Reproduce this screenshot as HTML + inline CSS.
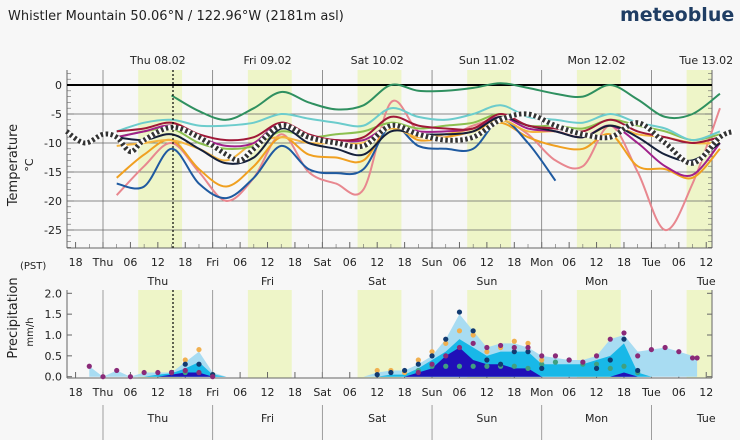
<!DOCTYPE html>
<html><head><meta charset="utf-8"><style>
body{margin:0;background:#f7f7f7;font-family:"DejaVu Sans","Liberation Sans",sans-serif;}
svg{display:block}
text{font-family:"DejaVu Sans","Liberation Sans",sans-serif;fill:#222}
</style></head><body>
<svg id="c" width="740" height="440" viewBox="0 0 740 440"></svg>
<script>
// ---- data ----
const hours = [3,9,15,21,27,33,39,45,51,57,63,69,75,81,87,93,99,105,111,117,123,129,135];
const dayNames = ["Thu","Fri","Sat","Sun","Mon","Tue"];
const dayDates = ["Thu 08.02","Fri 09.02","Sat 10.02","Sun 11.02","Mon 12.02","Tue 13.02"];
const tempTicks = [0,-5,-10,-15,-20,-25];
const precipTicks = [0,0.5,1.0,1.5,2.0];
const precipTickLabels = ["0.0","0.5","1.0","1.5","2.0"];
const sGreen  = [null,null,-1.8,-4.5,-6,-4,-1.2,-3,-4.2,-3.5,0,-1,-1,-0.5,0.3,-0.5,-1.5,-2,0,-2.5,-5.5,-5,-1.5];
const sCyan   = [-8,-6.5,-6,-7,-7,-6.5,-5,-5.8,-6.5,-7,-4,-5.5,-6,-5,-3.5,-5.5,-6,-6.5,-5,-6.5,-7.5,-9.5,-8];
const sMaroon = [-8,-7.5,-6.5,-8.5,-9.5,-9,-6.5,-8.5,-9.5,-9,-5.5,-7,-7.5,-7.5,-5,-7,-7.5,-8,-6,-8,-9,-10,-9];
const sPurple = [-9,-8,-7,-9,-10.5,-10,-6.5,-9,-9.5,-9.5,-7,-8,-8,-7.5,-5.5,-7.5,-8,-9,-7,-10,-14,-15.5,-10];
const sLime   = [-9,-8,-7.5,-10,-11,-10.5,-8,-9,-8.5,-8,-6.5,-7.5,-7,-6.5,-5,-7,-7,-7.5,-6,-7,-8,-9.5,-8.5];
const sNavy   = [-9,-9.5,-8.5,-11,-13.5,-12.5,-7.5,-10,-11,-12,-8,-8.5,-8.5,-8,-5.5,-7,-8,-9,-7,-9,-12,-13,-10];
const sBlue   = [-17,-17.5,-11,-17,-19.5,-16,-10.5,-14.5,-15.2,-14.5,-7,-10.5,-11,-11,-6,-10,-16.5,null,null,null,null,null,null];
const sOrange = [-16,-12,-9.5,-14.5,-17.5,-14,-9,-12,-12.5,-13,-7,-9.5,-9,-8,-6.5,-9,-10.5,-11,-8.5,-14,-14.5,-16,-11];
const sYellow = [-10.5,-10,-9.5,-11,-13,-10,-9,-10,-10,-10,-7.5,-9,-8.5,-7.5,-6,-8,-8,-9,-7,-8.5,-9,-10,-10];
const sPink   = [-19,-14,-10,-15,-20,-16,-8.5,-15,-17,-18,-3,-8,-9,-7,-6,-8.5,-13,-14,-7,-15,-25,-17,-4];
const meanHours = [-8,-4,0,3,6,9,15,21,27,30,33,39,45,51,57,63,69,75,81,87,93,99,105,111,117,123,129,135,138];
const sMean   = [-8,-10,-8.5,-9,-11.5,-9.5,-7.3,-9,-12,-13,-11,-7,-9,-10,-10.5,-7,-8.5,-9.5,-9,-6,-5,-7,-8.5,-9,-6.5,-10,-13.5,-9,-8];
const pHours  = [-3,0,3,6,9,12,15,18,21,24,27,30,33,36,39,42,45,48,51,54,57,60,63,66,69,72,75,78,81,84,87,90,93,96,99,102,105,108,111,114,117,120,123,126,129,130];
const pMax    = [0.25,0,0.15,0,0.1,0.1,0.1,0.35,0.6,0.1,0,0,0,0,0,0,0,0,0,0,0,0.1,0.15,0.15,0.3,0.5,0.9,1.5,1.1,0.7,0.8,0.8,0.7,0.5,0.45,0.4,0.4,0.5,0.9,1.0,0.6,0.65,0.7,0.6,0.5,0.45];
const pMid    = [0,0,0,0,0,0.05,0.08,0.2,0.35,0.05,0,0,0,0,0,0,0,0,0,0,0,0,0.05,0.05,0.2,0.4,0.6,0.9,0.7,0.5,0.6,0.6,0.6,0.3,0.3,0.3,0.3,0.4,0.5,0.8,0.1,0,0,0,0,0];
const pLow    = [0,0,0,0,0,0,0.05,0.1,0.1,0,0,0,0,0,0,0,0,0,0,0,0,0,0,0,0.1,0.2,0.5,0.7,0.4,0.3,0.3,0.2,0.2,0,0,0,0,0,0,0.1,0,0,0,0,0,0];
const pDotPurple = [0.25,0,0.15,0,0.1,0.1,0.1,0.15,0.1,0,null,null,null,null,null,null,null,null,null,null,null,null,null,null,0.1,0.3,0.5,0.7,0.8,0.7,0.75,0.7,0.7,0.5,0.5,0.4,0.35,0.5,0.9,1.05,0.5,0.65,0.7,0.6,0.45,0.45];
const pDotNavy   = [null,null,null,null,null,null,0.1,0.3,0.3,0.05,null,null,null,null,null,null,null,null,null,null,null,0.05,0.1,0.15,0.3,0.5,0.9,1.55,1.1,0.4,0.3,0.6,0.6,0.2,null,null,null,0.2,0.4,0.9,0.15,null,null,null,null,null];
const pDotOrange = [null,null,null,null,null,null,0.1,0.4,0.65,0.05,null,null,null,null,null,null,null,null,null,null,null,0.15,0.15,0.1,0.4,0.6,0.8,1.1,1.0,0.6,0.7,0.85,0.8,0.4,null,null,null,null,null,null,null,null,null,null,null,null];
const pDotGreen  = [null,null,null,null,null,null,null,0.1,0.1,null,null,null,null,null,null,null,null,null,null,null,null,null,null,null,0.15,0.25,0.25,0.25,0.25,0.25,0.25,0.25,0.2,0.3,0.35,0.4,0.3,0.3,0.2,0.25,0.1,null,null,null,null,null];

// ---- axes ----
const X0=103, PXH=4.57;
const x = h => X0 + h*PXH;
const yT = v => 85 - v*5.8;
const yP = v => 376.7 - v*41.7;
const L=67, R=712;
const NS="http://www.w3.org/2000/svg";
const svg=document.getElementById('c');
function el(tag,attrs,parent){const e=document.createElementNS(NS,tag);for(const k in attrs)e.setAttribute(k,attrs[k]);(parent||svg).appendChild(e);return e;}
function txt(s,xx,yy,attrs){const t=el('text',Object.assign({x:xx,y:yy},attrs||{}));t.textContent=s;return t;}
function smooth(pts){
  if(pts.length<2)return '';
  let d='M'+pts[0][0]+','+pts[0][1];
  for(let i=0;i<pts.length-1;i++){
    const p0=pts[i-1]||pts[i],p1=pts[i],p2=pts[i+1],p3=pts[i+2]||p2;
    const c1x=p1[0]+(p2[0]-p0[0])/6,c1y=p1[1]+(p2[1]-p0[1])/6;
    const c2x=p2[0]-(p3[0]-p1[0])/6,c2y=p2[1]-(p3[1]-p1[1])/6;
    d+=` C${c1x},${c1y} ${c2x},${c2y} ${p2[0]},${p2[1]}`;
  }
  return d;
}
function segs(hs,vals,yf){const out=[];let cur=[];hs.forEach((h,i)=>{if(vals[i]==null){if(cur.length)out.push(cur);cur=[];}else cur.push([x(h),yf(vals[i])]);});if(cur.length)out.push(cur);return out;}

// title
let t=txt("Whistler Mountain  50.06°N / 122.96°W (2181m asl)",8,20,{'font-size':13});

t=txt("meteoblue",620,21,{'font-size':19,'font-weight':'bold',style:'fill:#1f3d63'});


// daylight bands
const gB=el('g',{});
for(let d=0;d<6;d++){
  const a=Math.max(L,x(d*24+7.7)),b=Math.min(R,x(d*24+17.3));
  if(b>a){el('rect',{x:a,y:70,width:b-a,height:178,fill:'#eef5c8'},gB);el('rect',{x:a,y:290,width:b-a,height:88,fill:'#eef5c8'},gB);}
}
// temp grid
const gG=el('g',{});
tempTicks.forEach(v=>{if(v!==0)el('line',{x1:L,x2:R,y1:yT(v),y2:yT(v),stroke:'#666','stroke-width':0.7},gG);});
for(let d=0;d<6;d++){el('line',{x1:x(d*24),x2:x(d*24),y1:70,y2:248,stroke:'#666','stroke-width':0.7},gG);}
for(let v=2;v>=-28;v--){el('line',{x1:L,x2:L+(v%5?4:7),y1:yT(v),y2:yT(v),stroke:'#666','stroke-width':0.6},gG);el('line',{x1:R-(v%5?4:7),x2:R,y1:yT(v),y2:yT(v),stroke:'#666','stroke-width':0.6},gG);}
el('line',{x1:L,x2:L,y1:70,y2:248,stroke:'#666'},gG);el('line',{x1:R,x2:R,y1:70,y2:248,stroke:'#666'},gG);
el('line',{x1:L,x2:R,y1:248,y2:248,stroke:'#666'},gG);
el('line',{x1:L,x2:R,y1:yT(0),y2:yT(0),stroke:'#000','stroke-width':2},gG);
// temp tick labels
tempTicks.forEach(v=>{const tt=txt(String(v),62,yT(v)+4,{'font-size':11,'text-anchor':'end'});});
// time labels
const tlab=["18","Thu","06","12","18","Fri","06","12","18","Sat","06","12","18","Sun","06","12","18","Mon","06","12","18","Tue","06","12"];
for(let i=0;i<tlab.length;i++){
  const h=-6+i*6;const hx=x(h);
  if(hx<L||hx>R)continue;
  el('line',{x1:hx,x2:hx,y1:242,y2:248,stroke:'#666'},gG);
  el('line',{x1:hx,x2:hx,y1:372,y2:378,stroke:'#666'},gG);
  let a=txt(tlab[i],hx,266,{'font-size':11,'text-anchor':'middle'});
  a=txt(tlab[i],hx,396,{'font-size':11,'text-anchor':'middle'});
}
for(let h=-9;h<=138;h+=3){if(h%6===0)continue;const hx=x(h);if(hx<L||hx>R)continue;el('line',{x1:hx,x2:hx,y1:244,y2:248,stroke:'#666','stroke-width':0.6},gG);}
dayNames.forEach((n,d)=>{
  let a=txt(dayDates[d],x(d*24+12),64,{'font-size':11,'text-anchor':'middle'});
  a=txt(n,x(d*24+12),285,{'font-size':11,'text-anchor':'middle'});
  a=txt(n,x(d*24+12),422,{'font-size':11,'text-anchor':'middle'});
  el('line',{x1:x(d*24),x2:x(d*24),y1:405,y2:440,stroke:'#888','stroke-width':0.8},gG);
});
// axis titles
t=txt("Temperature",0,0,{'font-size':13,'text-anchor':'middle',transform:'translate(17,165) rotate(-90)'});
t=txt("°C",0,0,{'font-size':11,'text-anchor':'middle',transform:'translate(33,165) rotate(-90)'});
t=txt("(PST)",20,269,{'font-size':10});
t=txt("Precipitation",0,0,{'font-size':13,'text-anchor':'middle',transform:'translate(17,318) rotate(-90)'});
t=txt("mm/h",0,0,{'font-size':10,'text-anchor':'middle',transform:'translate(33,332) rotate(-90)'});

// temp series
const series=[[sPink,'#e8878f'],[sOrange,'#f0a020'],[sBlue,'#1f5aa0'],[sYellow,'#f5b540'],[sLime,'#8cc050'],[sCyan,'#6ccccc'],[sPurple,'#a0208a'],[sNavy,'#15203a'],[sMaroon,'#a01838'],[sGreen,'#2f9060']];
const names=['temp-pink','temp-orange','temp-blue','temp-yellow','temp-lime','temp-cyan','temp-purple','temp-navy','temp-maroon','temp-green'];
series.forEach((s,i)=>{segs(hours,s[0],yT).forEach(pts=>{const p=el('path',{d:smooth(pts),fill:'none',stroke:s[1],'stroke-width':2});});});
const mp=smooth(segs(meanHours,sMean,yT)[0]);
let m=el('path',{d:mp,fill:'none',stroke:'#fff','stroke-width':5});
m=el('path',{d:mp,fill:'none',stroke:'#333','stroke-width':5,'stroke-dasharray':'2.5 2.5'});
// now line
let nl=el('line',{x1:173,x2:173,y1:70,y2:248,stroke:'#000','stroke-width':1.2,'stroke-dasharray':'2 2'});


nl=el('line',{x1:173,x2:173,y1:290,y2:378,stroke:'#000','stroke-width':1.2,'stroke-dasharray':'2 2'});



// precip panel
for(let d=0;d<6;d++)el('line',{x1:x(d*24),x2:x(d*24),y1:290,y2:378,stroke:'#888','stroke-width':0.8},gG);
el('line',{x1:L,x2:L,y1:290,y2:378,stroke:'#666'},gG);el('line',{x1:R,x2:R,y1:290,y2:378,stroke:'#666'},gG);
el('line',{x1:L,x2:R,y1:378,y2:378,stroke:'#666'},gG);
precipTicks.forEach((v,i)=>{el('line',{x1:L,x2:L+5,y1:yP(v),y2:yP(v),stroke:'#666'},gG);el('line',{x1:R-5,x2:R,y1:yP(v),y2:yP(v),stroke:'#666'},gG);
  const a=txt(precipTickLabels[i],62,yP(v)+4,{'font-size':11,'text-anchor':'end'});});
function area(vals,col,name){let d='';pHours.forEach((h,i)=>{d+=(i?'L':'M')+x(h)+','+yP(vals[i]);});d+='L'+x(pHours[pHours.length-1])+','+yP(0)+'L'+x(pHours[0])+','+yP(0)+'Z';
  const p=el('path',{d:d,fill:col});}
area(pMax,'#a8dcf2','precip-area-max');area(pMid,'#18b8e8','precip-area-mid');area(pLow,'#2010b8','precip-area-low');
function dots(vals,col,name){pHours.forEach((h,i)=>{if(vals[i]==null)return;const c=el('circle',{cx:x(h),cy:yP(vals[i]),r:2.6,fill:col});});}
dots(pDotGreen,'#40a080','precip-dot-green');dots(pDotOrange,'#f0b050','precip-dot-orange');dots(pDotNavy,'#123a70','precip-dot-navy');dots(pDotPurple,'#8a2a78','precip-dot-purple');
</script>
</body></html>
